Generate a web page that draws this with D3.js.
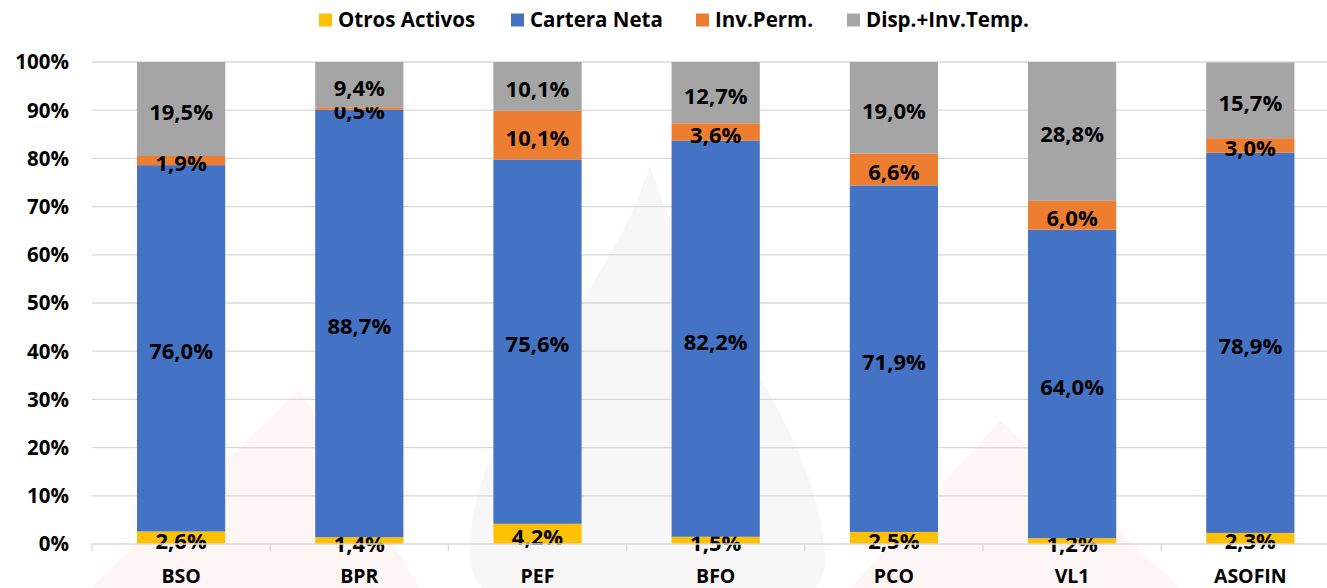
<!DOCTYPE html>
<html>
<head>
<meta charset="utf-8">
<script src="https://cdn.jsdelivr.net/npm/d3@7"></script>
<style>
  body { margin: 0; background: #fff; }
  svg text { font-family: "Open Sans", "Noto Sans", sans-serif; font-weight: bold; fill: #000; }
</style>
</head>
<body>
<div id="main"></div>
<script>
var categories = ['BSO', 'BPR', 'PEF', 'BFO', 'PCO', 'VL1', 'ASOFIN'];
var seriesNames = ['Otros Activos', 'Cartera Neta', 'Inv.Perm.', 'Disp.+Inv.Temp.'];
var otrosActivos = [2.6, 1.4, 4.2, 1.5, 2.5, 1.2, 2.3];
var carteraNeta = [76.0, 88.7, 75.6, 82.2, 71.9, 64.0, 78.9];
var invPerm = [1.9, 0.5, 10.1, 3.6, 6.6, 6.0, 3.0];
var dispInvTemp = [19.5, 9.4, 10.1, 12.7, 19.0, 28.8, 15.7];
var yTicks = [0, 10, 20, 30, 40, 50, 60, 70, 80, 90, 100];
var colors = ['#FFC000', '#4472C4', '#ED7D31', '#A5A5A5'];

function Sketch() {
  this.width = 1327;
  this.height = 588;
}

Sketch.prototype.init = function() {
  this.svg = d3.select('#main')
    .append('svg')
    .attr('width', this.width)
    .attr('height', this.height);

  this.x = d3.scaleBand()
    .domain(categories)
    .range([92, 92 + 7 * 178.2])
    .paddingInner(0.505)
    .paddingOuter(0.2525);

  this.y = d3.scaleLinear()
    .domain([0, 100])
    .range([544, 62]);
};

Sketch.prototype.update = function() {
  var all = [otrosActivos, carteraNeta, invPerm, dispInvTemp];
  var rows = categories.map(function(c, i) {
    var r = {cat: c};
    seriesNames.forEach(function(s, k) { r[s] = all[k][i]; });
    return r;
  });
  this.data = d3.stack().keys(seriesNames)(rows);
};

Sketch.prototype.render = function() {
  var x = this.x, y = this.y;

  // faint watermark behind the plot
  var wm = this.svg.append('g').attr('class', 'watermark');
  wm.append('path')
    .attr('d', 'M650,165 C610,300 465,420 470,560 C475,660 830,660 825,560 C820,420 690,300 650,165 Z')
    .attr('fill', '#f8f7f7');
  wm.append('path')
    .attr('d', 'M300,390 L90,588 L420,588 Z')
    .attr('fill', '#fdf6f5');
  wm.append('path')
    .attr('d', 'M1000,420 L1180,588 L850,588 Z')
    .attr('fill', '#fdf6f5');

  // gridlines
  this.svg.append('g')
    .selectAll('line')
    .data(yTicks.slice(1))
    .enter()
    .append('line')
    .attr('x1', 92)
    .attr('x2', this.width)
    .attr('y1', function(d) { return y(d); })
    .attr('y2', function(d) { return y(d); })
    .attr('stroke', '#d9d9d9')
    .attr('stroke-width', 1.3);

  // y labels
  this.svg.append('g')
    .selectAll('text')
    .data(yTicks)
    .enter()
    .append('text')
    .attr('x', 69)
    .attr('y', function(d) { return y(d); })
    .attr('dy', '0.36em')
    .attr('text-anchor', 'end')
    .style('font-size', '20.5px')
    .text(function(d) { return d + '%'; });

  // bars
  var layers = this.svg.append('g')
    .selectAll('g')
    .data(this.data)
    .enter()
    .append('g')
    .attr('fill', function(d, i) { return colors[i]; });

  layers.selectAll('rect')
    .data(function(d) { return d; })
    .enter()
    .append('rect')
    .attr('x', function(d) { return x(d.data.cat); })
    .attr('width', x.bandwidth())
    .attr('y', function(d) { return y(d[1]); })
    .attr('height', function(d) { return y(d[0]) - y(d[1]); });

  // x axis
  var axisY = y(0);
  this.svg.append('line')
    .attr('x1', 92).attr('x2', this.width)
    .attr('y1', axisY).attr('y2', axisY)
    .attr('stroke', '#d9d9d9').attr('stroke-width', 1.3);

  var step = x.step();
  this.svg.append('g')
    .selectAll('line')
    .data(d3.range(categories.length + 1))
    .enter()
    .append('line')
    .attr('x1', function(i) { return 92 + i * step; })
    .attr('x2', function(i) { return 92 + i * step; })
    .attr('y1', axisY)
    .attr('y2', axisY + 7)
    .attr('stroke', '#d9d9d9')
    .attr('stroke-width', 1.3);

  this.svg.append('g')
    .selectAll('text')
    .data(categories)
    .enter()
    .append('text')
    .attr('x', function(d) { return x(d) + x.bandwidth() / 2; })
    .attr('y', 583)
    .attr('text-anchor', 'middle')
    .style('font-size', '19.5px')
    .text(function(d) { return d; });

  // value labels
  layers.selectAll('text')
    .data(function(d) { return d; })
    .enter()
    .append('text')
    .attr('x', function(d) { return x(d.data.cat) + x.bandwidth() / 2; })
    .attr('y', function(d) { return (y(d[0]) + y(d[1])) / 2 + 3; })
    .attr('dy', '0.36em')
    .attr('text-anchor', 'middle')
    .style('font-size', '22px')
    .style('fill', '#000')
    .text(function(d) { return d3.format('.1f')(d[1] - d[0]).replace('.', ',') + '%'; });

  // legend
  var legendX = [319, 511, 696, 847];
  var legend = this.svg.append('g')
    .selectAll('g')
    .data(seriesNames)
    .enter()
    .append('g')
    .attr('transform', function(d, i) { return 'translate(' + legendX[i] + ',20)'; });

  legend.append('rect')
    .attr('x', 0).attr('y', -6.5)
    .attr('width', 13).attr('height', 13)
    .attr('fill', function(d, i) { return colors[i]; });

  legend.append('text')
    .attr('x', 19)
    .attr('dy', '0.36em')
    .style('font-size', '20.5px')
    .text(function(d) { return d; });
};

document.addEventListener('DOMContentLoaded', function() {
  var s = new Sketch();
  s.init();
  s.update();
  s.render();
});
</script>
</body>
</html>
